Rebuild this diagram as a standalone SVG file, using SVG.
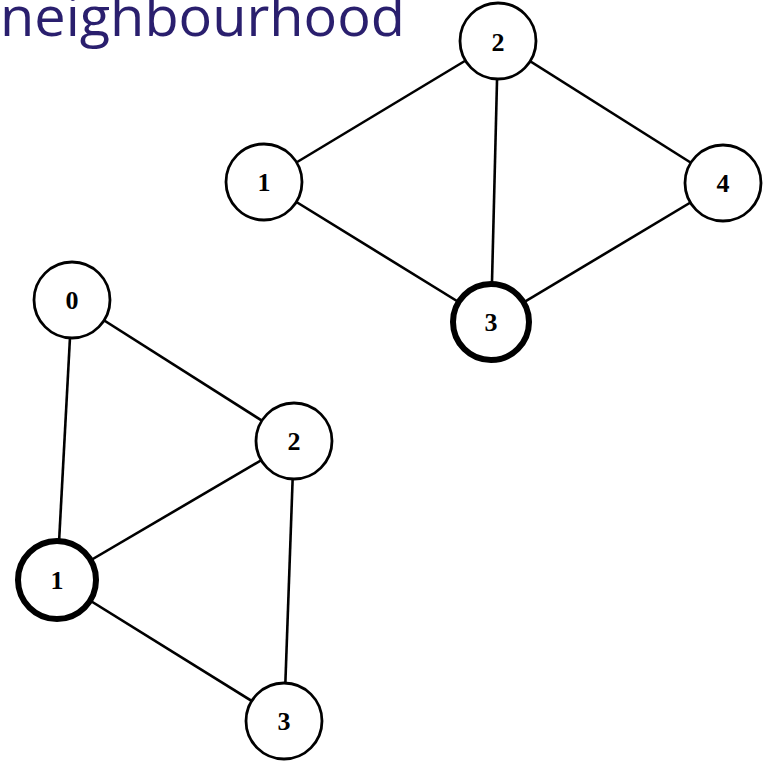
<svg xmlns="http://www.w3.org/2000/svg" width="765" height="763" viewBox="0 0 765 763">
  <style>
    .edge { stroke: #000; stroke-width: 2.6; fill: none; }
    .node circle { fill: #fff; stroke: #000; stroke-width: 2.8; }
    .node.focus circle { stroke-width: 6; }
    .node text { font-family: "Liberation Serif", serif; font-weight: bold; font-size: 26px; text-anchor: middle; fill: #000; }
    .title { font-family: "Open Sans", "Noto Sans", sans-serif; font-size: 54px; fill: #2a1f6e; }
  </style>
  <rect width="765" height="763" fill="#fff"/>
  <text class="title" x="0" y="36" textLength="405" lengthAdjust="spacingAndGlyphs">neighbourhood</text>

  <g id="connectors">
    <!-- upper graph -->
    <line class="edge" x1="264" y1="182" x2="498" y2="41"/>
    <line class="edge" x1="498" y1="41" x2="723" y2="183"/>
    <line class="edge" x1="498" y1="41" x2="491" y2="322"/>
    <line class="edge" x1="264" y1="182" x2="491" y2="322"/>
    <line class="edge" x1="723" y1="183" x2="491" y2="322"/>
    <!-- lower graph -->
    <line class="edge" x1="72" y1="300" x2="294" y2="441"/>
    <line class="edge" x1="72" y1="300" x2="57" y2="580"/>
    <line class="edge" x1="294" y1="441" x2="57" y2="580"/>
    <line class="edge" x1="294" y1="441" x2="284" y2="721"/>
    <line class="edge" x1="57" y1="580" x2="284" y2="721"/>
  </g>

  <g id="a1" class="node"><circle cx="264" cy="182" r="38"/><text x="264" y="191">1</text></g>
  <g id="a2" class="node"><circle cx="498" cy="41" r="38"/><text x="498" y="51">2</text></g>
  <g id="a3" class="node focus"><circle cx="491" cy="322" r="38"/><text x="491" y="331">3</text></g>
  <g id="a4" class="node"><circle cx="723" cy="183" r="38"/><text x="723" y="192">4</text></g>

  <g id="b0" class="node"><circle cx="72" cy="300" r="38"/><text x="72" y="309">0</text></g>
  <g id="b1" class="node focus"><circle cx="57" cy="580" r="39"/><text x="57" y="589">1</text></g>
  <g id="b2" class="node"><circle cx="294" cy="441" r="38"/><text x="294" y="450">2</text></g>
  <g id="b3" class="node"><circle cx="284" cy="721" r="38"/><text x="284" y="730">3</text></g>
</svg>
